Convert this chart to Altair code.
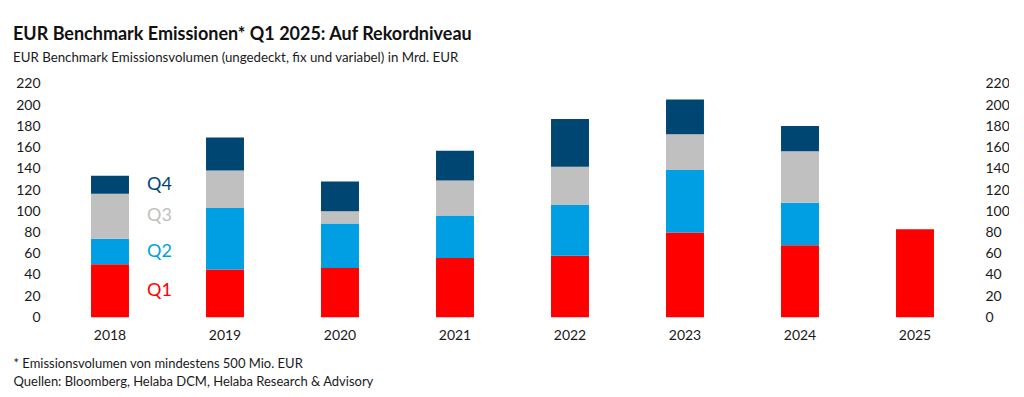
import altair as alt
import pandas as pd

years = ["2018", "2019", "2020", "2021", "2022", "2023", "2024", "2025"]
quarters = ["Q1", "Q2", "Q3", "Q4"]
q1 = [50, 45, 46.5, 56, 58, 80, 68, 83]
q2 = [24, 58, 42, 40, 48, 59, 40, None]
q3 = [42.5, 35.5, 11.5, 33, 36, 33.5, 48.5, None]
q4 = [17, 31, 28, 28, 45, 33, 24, None]
colors = ["#FF0000", "#009FE3", "#C0C0C0", "#004673"]
y_ticks = list(range(0, 221, 20))

title_text = "EUR Benchmark Emissionen* Q1 2025: Auf Rekordniveau"
subtitle_text = "EUR Benchmark Emissionsvolumen (ungedeckt, fix und variabel) in Mrd. EUR"
foot_lines = ["* Emissionsvolumen von mindestens 500 Mio. EUR",
              "Quellen: Bloomberg, Helaba DCM, Helaba Research & Advisory"]

rows = []
for i, y in enumerate(years):
    for qi, (q, series) in enumerate(zip(quarters, [q1, q2, q3, q4])):
        v = series[i]
        if v is not None:
            rows.append({"year": y, "quarter": q, "qorder": qi, "value": v})
df = pd.DataFrame(rows)

FONT = "Lato"
TXT = "#1a1a1a"

color_scale = alt.Scale(domain=quarters, range=colors)
y_scale = alt.Scale(domain=[0, 220], nice=False)
x_enc = alt.X(
    "year:O",
    scale=alt.Scale(paddingInner=0.67, paddingOuter=0.335),
    axis=alt.Axis(
        labelAngle=0, ticks=False, domain=False, labelPadding=11,
        labelFontSize=14, labelColor=TXT, labelFont=FONT,
        title=foot_lines, titleFont=FONT, titleFontSize=13, titleFontWeight="normal",
        titleColor=TXT, titleAlign="left", titleAnchor="start", titleBaseline="alphabetic",
        titleX=-39.5, titleY=50, titleLineHeight=18,
    ),
)

base = alt.Chart(df)

bars = base.mark_bar().encode(
    x=x_enc,
    y=alt.Y("value:Q", stack="zero", scale=y_scale,
            axis=alt.Axis(values=y_ticks, orient="left", grid=False, domain=False, ticks=False,
                          labelPadding=12.5, labelFontSize=14, labelColor=TXT, labelFont=FONT,
                          title=None)),
    color=alt.Color("quarter:N", scale=color_scale, legend=None),
    order=alt.Order("qorder:Q"),
)

labels = base.transform_stack(
    stack="value", groupby=["year"], as_=["y0", "y1"],
    sort=[alt.SortField("qorder", order="ascending")],
).transform_calculate(
    mid="(datum.y0 + datum.y1) / 2"
).transform_filter(
    alt.datum.year == years[0]
).mark_text(align="left", baseline="middle", dx=37, fontSize=18, font=FONT).encode(
    x=alt.X("year:O"),
    y=alt.Y("mid:Q", scale=y_scale,
            axis=alt.Axis(values=y_ticks, orient="right", grid=False, domain=False, ticks=False,
                          labelPadding=12.5, labelFontSize=14, labelColor=TXT, labelFont=FONT,
                          labelAlign="left", title=None)),
    text="quarter:N",
    color=alt.Color("quarter:N", scale=color_scale, legend=None),
)

chart = alt.layer(bars, labels).resolve_axis(y="independent").properties(
    width=920,
    height=233.3,
    background="white",
    autosize=alt.AutoSizeParams(type="none"),
    padding={"left": 44.5, "top": 76, "right": 36, "bottom": 72},
    title=alt.TitleParams(
        text=title_text, subtitle=subtitle_text, anchor="start", frame="group",
        dx=-39.5, offset=13, font=FONT, fontSize=18, fontWeight="bold", color="#111111",
        subtitleFont=FONT, subtitleFontSize=13.3, subtitleColor=TXT, subtitlePadding=7,
    ),
).configure_view(strokeWidth=0, stroke="transparent")

chart.save("out.html", embed_options={"renderer": "svg", "actions": False})
